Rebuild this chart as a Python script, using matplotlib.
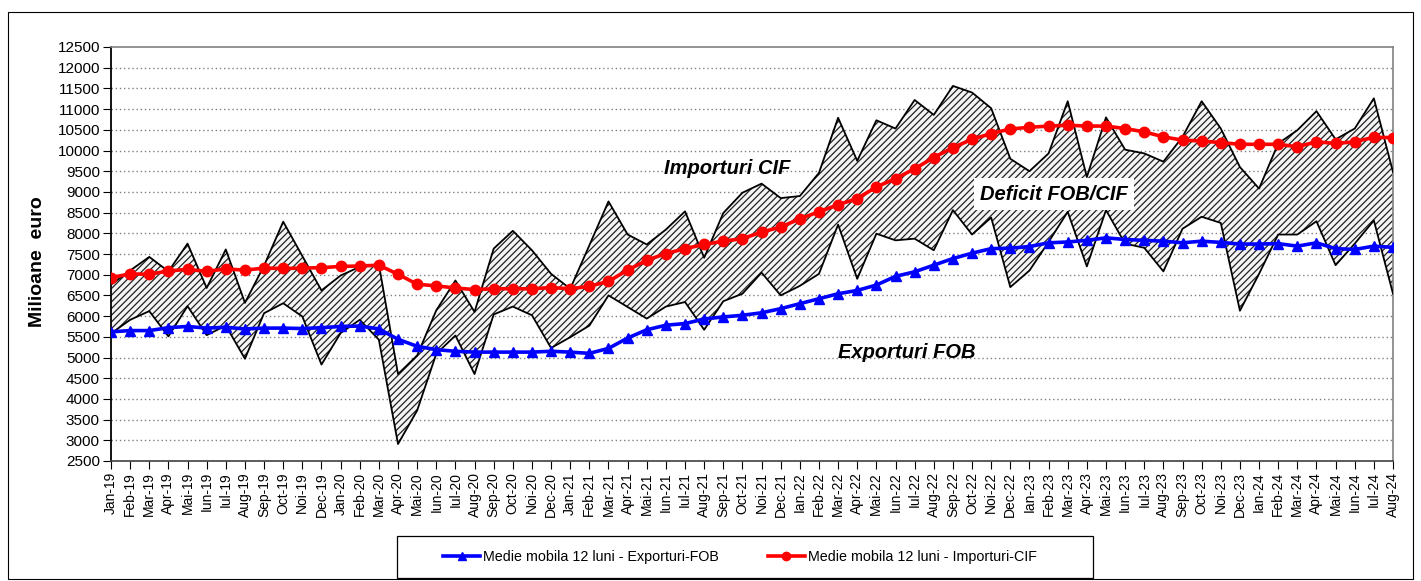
import matplotlib
matplotlib.use("Agg")
import matplotlib.pyplot as plt
from matplotlib.patches import Rectangle
import numpy as np

plt.rcParams['font.family'] = ['Liberation Sans', 'DejaVu Sans']
plt.rcParams['hatch.linewidth'] = 0.9

months = ["Jan-19", "Feb-19", "Mar-19", "Apr-19", "Mai-19", "Iun-19", "Iul-19", "Aug-19", "Sep-19", "Oct-19", "Noi-19", "Dec-19",
          "Jan-20", "Feb-20", "Mar-20", "Apr-20", "Mai-20", "Iun-20", "Iul-20", "Aug-20", "Sep-20", "Oct-20", "Noi-20", "Dec-20",
          "Jan-21", "Feb-21", "Mar-21", "Apr-21", "Mai-21", "Iun-21", "Iul-21", "Aug-21", "Sep-21", "Oct-21", "Noi-21", "Dec-21",
          "Ian-22", "Feb-22", "Mar-22", "Apr-22", "Mai-22", "Iun-22", "Iul-22", "Aug-22", "Sep-22", "Oct-22", "Noi-22", "Dec-22",
          "Ian-23", "Feb-23", "Mar-23", "Apr-23", "Mai-23", "Iun-23", "Iul-23", "Aug-23", "Sep-23", "Oct-23", "Noi-23", "Dec-23",
          "Ian-24", "Feb-24", "Mar-24", "Apr-24", "Mai-24", "Iun-24", "Iul-24", "Aug-24"]

importuri_cif = [6760, 7100, 7430, 7080, 7750, 6680, 7610, 6320, 7220, 8280, 7450, 6620,
                 6980, 7190, 7250, 4600, 5050, 6140, 6860, 6100, 7630, 8060, 7590, 7020,
                 6660, 7710, 8770, 7970, 7730, 8090, 8530, 7410, 8490, 8980, 9200, 8850,
                 8900, 9460, 10790, 9750, 10730, 10530, 11220, 10860, 11560, 11400, 11020, 9800,
                 9500, 9930, 11190, 9360, 10800, 10020, 9930, 9730, 10330, 11190, 10530, 9600,
                 9080, 10170, 10490, 10950, 10270, 10530, 11260, 9480]

exporturi_fob = [5580, 5910, 6120, 5510, 6240, 5540, 5770, 4970, 6070, 6310, 5990, 4830,
                 5590, 5910, 5430, 2910, 3720, 5090, 5530, 4600, 6040, 6230, 6020, 5230,
                 5490, 5770, 6500, 6220, 5940, 6230, 6340, 5670, 6360, 6540, 7050, 6500,
                 6730, 7020, 8210, 6900, 7990, 7830, 7870, 7590, 8560, 7970, 8380, 6700,
                 7100, 7790, 8520, 7200, 8560, 7750, 7650, 7080, 8110, 8400, 8250, 6130,
                 7020, 7970, 7970, 8290, 7230, 7750, 8310, 6540]

mm_export = [5620, 5650, 5650, 5720, 5750, 5710, 5730, 5690, 5710, 5710, 5700, 5720,
             5750, 5760, 5690, 5440, 5270, 5190, 5150, 5130, 5130, 5130, 5130, 5150,
             5130, 5100, 5220, 5470, 5670, 5780, 5820, 5930, 5980, 6020, 6080, 6180,
             6300, 6420, 6540, 6620, 6750, 6960, 7070, 7230, 7390, 7520, 7630, 7640,
             7680, 7770, 7790, 7830, 7890, 7850, 7830, 7810, 7770, 7810, 7780, 7740,
             7740, 7750, 7690, 7770, 7630, 7610, 7690, 7660]

mm_import = [6930, 7020, 7010, 7090, 7130, 7080, 7140, 7110, 7160, 7150, 7160, 7170,
             7200, 7210, 7230, 7010, 6770, 6730, 6680, 6640, 6660, 6660, 6660, 6690,
             6660, 6720, 6840, 7110, 7350, 7510, 7630, 7730, 7810, 7870, 8030, 8150,
             8350, 8520, 8690, 8840, 9120, 9320, 9560, 9830, 10070, 10270, 10410, 10520,
             10560, 10590, 10610, 10590, 10590, 10530, 10450, 10330, 10250, 10230, 10190, 10150,
             10150, 10150, 10090, 10210, 10170, 10210, 10320, 10310]

yticks = list(range(2500, 12501, 500))

W, H = 1421, 581
fig = plt.figure(figsize=(W / 100, H / 100), dpi=100)
fig.patch.set_facecolor('white')

# outer chart border
fig.add_artist(Rectangle((8 / W, 2 / H), (1413 - 8) / W, (569 - 2) / H,
                         transform=fig.transFigure, fill=False, edgecolor='black', linewidth=0.8))

left, right, top, bottom = 111, 1393, 47, 461
ax = fig.add_axes([left / W, 1 - bottom / H, (right - left) / W, (bottom - top) / H])

x = np.arange(len(months))
imp = np.array(importuri_cif)
exp_ = np.array(exporturi_fob)

ax.fill_between(x, exp_, imp, facecolor='#f4f4f4', edgecolor='#202020', hatch='/////', linewidth=0, zorder=2)
ax.plot(x, imp, color='black', linewidth=1.3, zorder=3)
ax.plot(x, exp_, color='black', linewidth=1.3, zorder=3)

l1, = ax.plot(x, mm_export, color='#0000FF', linewidth=2.6, marker='^', markersize=7.5,
              markeredgecolor='#0000FF', zorder=5, label='Medie mobila 12 luni - Exporturi-FOB')
l2, = ax.plot(x, mm_import, color='#FF0000', linewidth=2.6, marker='o', markersize=7.5,
              markeredgecolor='#FF0000', zorder=5, label='Medie mobila 12 luni - Importuri-CIF')

ax.set_xlim(0, len(months) - 1)
ax.set_ylim(2500, 12500)
ax.set_yticks(yticks)
ax.set_yticklabels([str(v) for v in yticks], fontsize=11)
ax.set_xticks(x)
ax.set_xticklabels(months, rotation=90, fontsize=10)
ax.tick_params(axis='both', direction='out', length=6, width=0.8, color='black')
ax.tick_params(axis='y', pad=2)
ax.tick_params(axis='x', pad=2)

for v in yticks[1:-1]:
    ax.axhline(v, color='#808080', linewidth=1.0, linestyle=(0, (1, 2)), zorder=1)

for s in ['top', 'right']:
    ax.spines[s].set_color('#808080')
    ax.spines[s].set_linewidth(1.2)
ax.spines['left'].set_color('black')
ax.spines['left'].set_linewidth(1.3)
ax.spines['bottom'].set_color('#404040')
ax.spines['bottom'].set_linewidth(1.2)

fig.text(38 / W, 1 - 262 / H, 'Milioane  euro', rotation=90, fontsize=14, fontweight='bold',
         ha='center', va='center')


def px_text(xp, yp, s, **kw):
    fig.text(xp / W, 1 - yp / H, s, **kw)


px_text(727, 168, 'Importuri CIF', fontsize=14.5, fontweight='bold', fontstyle='italic',
        ha='center', va='center', zorder=6)
px_text(907, 353, 'Exporturi FOB', fontsize=14.5, fontweight='bold', fontstyle='italic',
        ha='center', va='center', zorder=6)
px_text(1054, 194, 'Deficit FOB/CIF', fontsize=14.5, fontweight='bold', fontstyle='italic',
        ha='center', va='center', zorder=6,
        bbox=dict(facecolor='white', edgecolor='none', boxstyle='square,pad=0.3'))

# legend box
fig.add_artist(Rectangle((397 / W, 1 - 578 / H), (1093 - 397) / W, (578 - 536) / H,
                         transform=fig.transFigure, fill=False, edgecolor='black', linewidth=0.9))
fig.legend(handles=[l1, l2], loc='center', bbox_to_anchor=(740 / W, 1 - 557 / H), ncol=2,
           frameon=False, fontsize=10.3, handlelength=2.6, handletextpad=0.2, columnspacing=3.4,
           markerscale=0.8)

fig.savefig('out.png', dpi=100)
